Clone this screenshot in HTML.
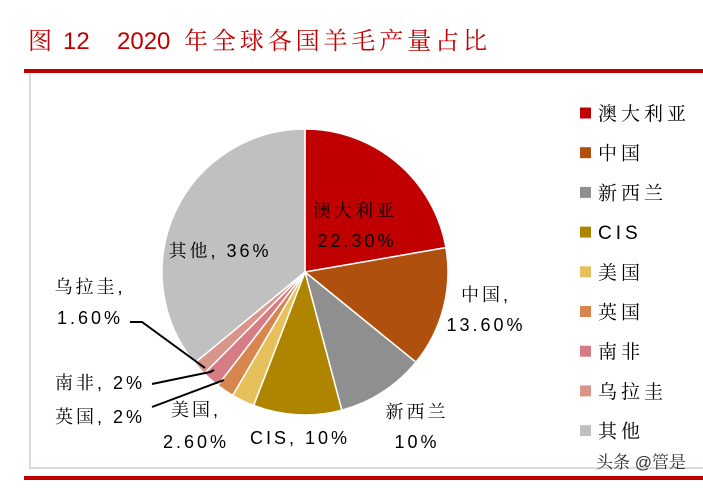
<!DOCTYPE html>
<html><head><meta charset="utf-8"><style>
body{margin:0;background:#fff;width:703px;height:484px;overflow:hidden;font-family:"Liberation Sans","Noto Serif CJK SC","Noto Sans CJK SC",sans-serif}
</style></head><body>
<svg width="703" height="484" xmlns="http://www.w3.org/2000/svg" font-family="'Liberation Sans','Noto Serif CJK SC','Noto Sans CJK SC',sans-serif">
<g font-size="24" fill="#C00000">
<text x="28" y="49">图</text>
<text x="63" y="49">12</text>
<text x="117" y="49">2020</text>
<text x="184" y="49" textLength="303" lengthAdjust="spacing">年全球各国羊毛产量占比</text>
</g>
<rect x="24" y="69" width="679" height="4" fill="#C00000"/>
<rect x="29" y="74" width="2" height="394" fill="#d9d9d9"/>
<rect x="29" y="467" width="674" height="2" fill="#d9d9d9"/>
<rect x="24" y="476" width="679" height="4" fill="#C00000"/>
<g id="pie"></g>
<g id="legend"></g>
<g font-size="18" fill="#000" letter-spacing="3">
<text x="355" y="217" text-anchor="middle">澳大利亚</text><text x="357" y="247" text-anchor="middle">22.30%</text>
<text x="486" y="301" text-anchor="middle">中国,</text><text x="486" y="331" text-anchor="middle">13.60%</text>
<text x="417" y="418" text-anchor="middle">新西兰</text><text x="417" y="448" text-anchor="middle">10%</text>
<text x="300" y="444" text-anchor="middle">CIS, 10%</text>
<text x="196" y="416" text-anchor="middle">美国,</text><text x="196" y="448" text-anchor="middle">2.60%</text>
<text x="100" y="423" text-anchor="middle">英国, 2%</text>
<text x="100" y="389" text-anchor="middle">南非, 2%</text>
<text x="90" y="293" text-anchor="middle">乌拉圭,</text><text x="90" y="324" text-anchor="middle">1.60%</text>
<text x="220" y="257" text-anchor="middle">其他, 36%</text>
</g>
<g stroke="#000" stroke-width="2" fill="none">
<polyline points="130,322 142,322 205,368"/>
<polyline points="152,384 210,372 214,370"/>
<polyline points="152,407 224,380"/>
</g>
<text x="596" y="468" font-size="17" fill="#333">头条 @管是</text>
</svg>
<script>
const categories=["澳大利亚","中国","新西兰","CIS","美国","英国","南非","乌拉圭","其他"];
const values=[22.3,13.6,10,10,2.6,2,2,1.6,36];
const colors=["#C00000","#B0500F","#8F8F8F","#AF8500","#E6C05A","#D7874E","#D67C84","#D9958A","#C0C0C0"];
const NS="http://www.w3.org/2000/svg";
const cx=305,cy=272,r=143;
const total=values.reduce((a,b)=>a+b,0);
const pie=document.getElementById('pie');
let a=-Math.PI/2;
values.forEach((v,i)=>{
  const a2=a+v/total*2*Math.PI;
  const x1=cx+r*Math.cos(a),y1=cy+r*Math.sin(a),x2=cx+r*Math.cos(a2),y2=cy+r*Math.sin(a2);
  const p=document.createElementNS(NS,'path');
  p.setAttribute('d',`M${cx},${cy}L${x1},${y1}A${r},${r} 0 ${a2-a>Math.PI?1:0} 1 ${x2},${y2}Z`);
  p.setAttribute('fill',colors[i]);p.setAttribute('stroke','#fff');p.setAttribute('stroke-width','1.5');
  
  
  pie.appendChild(p);a=a2;
});
const lg=document.getElementById('legend');
categories.forEach((c,i)=>{
  const y=113+i*39.7;
  const s=document.createElementNS(NS,'rect');
  s.setAttribute('x',580);s.setAttribute('y',y-5.5);s.setAttribute('width',11);s.setAttribute('height',11);s.setAttribute('fill',colors[i]);
  
  
  lg.appendChild(s);
  const t=document.createElementNS(NS,'text');
  t.setAttribute('x',598);t.setAttribute('y',y+7);t.setAttribute('font-size','19');t.setAttribute('letter-spacing','4');t.textContent=c;
  
  
  lg.appendChild(t);
});
</script>
</body></html>
